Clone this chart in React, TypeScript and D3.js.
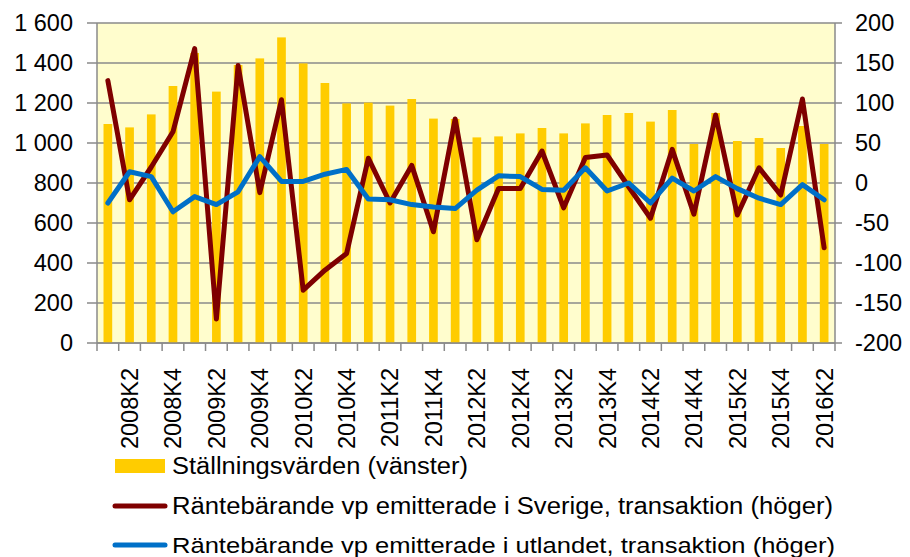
import React from "react";
import * as d3 from "d3";

const quarters: string[] = [];
for (let y = 2008; y <= 2016; y++) {
  for (let q = 1; q <= 4; q++) {
    if (y === 2016 && q > 2) break;
    quarters.push(`${y}K${q}`);
  }
}

const positions = [
  1095, 1078, 1143, 1285, 1450, 1257, 1390, 1423, 1528, 1398, 1300, 1198,
  1202, 1187, 1220, 1122, 1120, 1028, 1033, 1048, 1075, 1048, 1098, 1140,
  1150, 1107, 1165, 995, 1150, 1010, 1025, 975, 1085, 995,
];

const sweden = [
  128, -21, 20, 64, 168, -170, 147, -12, 104, -134, -109, -88, 31, -25, 22,
  -61, 80, -71, -7, -7, 40, -31, 32, 35, -5, -44, 42, -39, 85, -40, 19, -15,
  105, -81,
];

const abroad = [
  -25, 14, 8, -36, -17, -27, -11, 33, 2, 2, 11, 17, -20, -21, -27, -30, -32,
  -9, 9, 8, -8, -9, 19, -10, 0, -25, 6, -10, 8, -7, -19, -27, -2, -21,
];

const leftTicks = [0, 200, 400, 600, 800, 1000, 1200, 1400, 1600];
const rightTicks = [-200, -150, -100, -50, 0, 50, 100, 150, 200];

const legendItems = [
  "Ställningsvärden (vänster)",
  "Räntebärande vp emitterade i Sverige, transaktion (höger)",
  "Räntebärande vp emitterade i utlandet, transaktion (höger)",
];

const W = 910;
const H = 557;
const plot = { left: 97, right: 835, top: 23, bottom: 343 };
const FONT = "'Liberation Sans', Arial, sans-serif";
const GRID = "#8a8a8a";

function fmtLeft(v: number): string {
  const s = String(v);
  return s.length > 3 ? s.slice(0, s.length - 3) + " " + s.slice(-3) : s;
}

export default function App() {
  const x = d3
    .scaleBand<string>()
    .domain(quarters)
    .range([plot.left, plot.right])
    .paddingInner(0)
    .paddingOuter(0);
  const yL = d3.scaleLinear().domain([0, 1600]).range([plot.bottom, plot.top]);
  const yR = d3.scaleLinear().domain([-200, 200]).range([plot.bottom, plot.top]);
  const bw = x.bandwidth();
  const barW = bw * 0.4;
  const cx = (i: number) => (x(quarters[i]) as number) + bw / 2;

  const line = d3
    .line<number>()
    .x((_, i) => cx(i))
    .y((d) => yR(d));

  const boundaries = d3.range(quarters.length + 1).map((i) => plot.left + i * bw);

  const legendRows = [466, 506, 545];
  const legendLens = [296, 661, 663];

  return (
    <div style={{ position: "absolute", left: 0, top: 0 }}>
      <svg width={W} height={H} style={{ display: "block", background: "#fff" }}>
        <rect
          x={plot.left}
          y={plot.top}
          width={plot.right - plot.left}
          height={plot.bottom - plot.top}
          fill="#FFFDCD"
        />
        {leftTicks.map((t) => (
          <line
            key={"g" + t}
            x1={plot.left - 10}
            x2={plot.right + 7}
            y1={yL(t)}
            y2={yL(t)}
            stroke={GRID}
            strokeWidth={1.5}
          />
        ))}
        <line x1={plot.left} x2={plot.left} y1={plot.top} y2={plot.bottom} stroke={GRID} strokeWidth={1.5} />
        <line x1={plot.right} x2={plot.right} y1={plot.top} y2={plot.bottom} stroke={GRID} strokeWidth={1.5} />
        {boundaries.map((bx, i) => (
          <line
            key={"xt" + i}
            x1={bx}
            x2={bx}
            y1={plot.bottom}
            y2={plot.bottom + 8}
            stroke={GRID}
            strokeWidth={1.5}
          />
        ))}
        {positions.map((v, i) => (
          <rect
            key={"b" + i}
            x={cx(i) - barW / 2}
            y={yL(v)}
            width={barW}
            height={yL(0) - yL(v)}
            fill="#FFCC00"
          />
        ))}
        <line x1={plot.left} x2={plot.right} y1={plot.bottom} y2={plot.bottom} stroke={GRID} strokeWidth={1.5} />
        <path
          d={line(sweden) || ""}
          fill="none"
          stroke="#7F0000"
          strokeWidth={5}
          strokeLinejoin="round"
          strokeLinecap="round"
        />
        <path
          d={line(abroad) || ""}
          fill="none"
          stroke="#0070C8"
          strokeWidth={5}
          strokeLinejoin="round"
          strokeLinecap="round"
        />
        {leftTicks.map((t) => (
          <text
            key={"lt" + t}
            x={73}
            y={yL(t)}
            textAnchor="end"
            dominantBaseline="central"
            fontFamily={FONT}
            fontSize={23.5}
            fill="#000"
          >
            {fmtLeft(t)}
          </text>
        ))}
        {rightTicks.map((t) => (
          <text
            key={"rt" + t}
            x={855}
            y={yR(t)}
            textAnchor="start"
            dominantBaseline="central"
            fontFamily={FONT}
            fontSize={23.5}
            fill="#000"
          >
            {t}
          </text>
        ))}
        {quarters.map((q, i) =>
          i % 2 === 1 ? (
            <text
              key={"q" + q}
              transform={`translate(${cx(i)},${368}) rotate(-90)`}
              textAnchor="end"
              dy="0.36em"
              fontFamily={FONT}
              fontSize={23.5}
              fill="#000"
            >
              {q}
            </text>
          ) : null
        )}
        <rect x={115} y={legendRows[0] - 7} width={50} height={14} fill="#FFCC00" />
        <line x1={115} x2={165} y1={legendRows[1]} y2={legendRows[1]} stroke="#7F0000" strokeWidth={5} strokeLinecap="round" />
        <line x1={115} x2={165} y1={legendRows[2]} y2={legendRows[2]} stroke="#0070C8" strokeWidth={5} strokeLinecap="round" />
        {legendItems.map((t, i) => (
          <text
            key={"lg" + i}
            x={172}
            y={legendRows[i]}
            dominantBaseline="central"
            fontFamily={FONT}
            fontSize={i === 2 ? 22 : 23}
            textLength={legendLens[i]}
            lengthAdjust="spacingAndGlyphs"
            fill="#000"
          >
            {t}
          </text>
        ))}
      </svg>
    </div>
  );
}
